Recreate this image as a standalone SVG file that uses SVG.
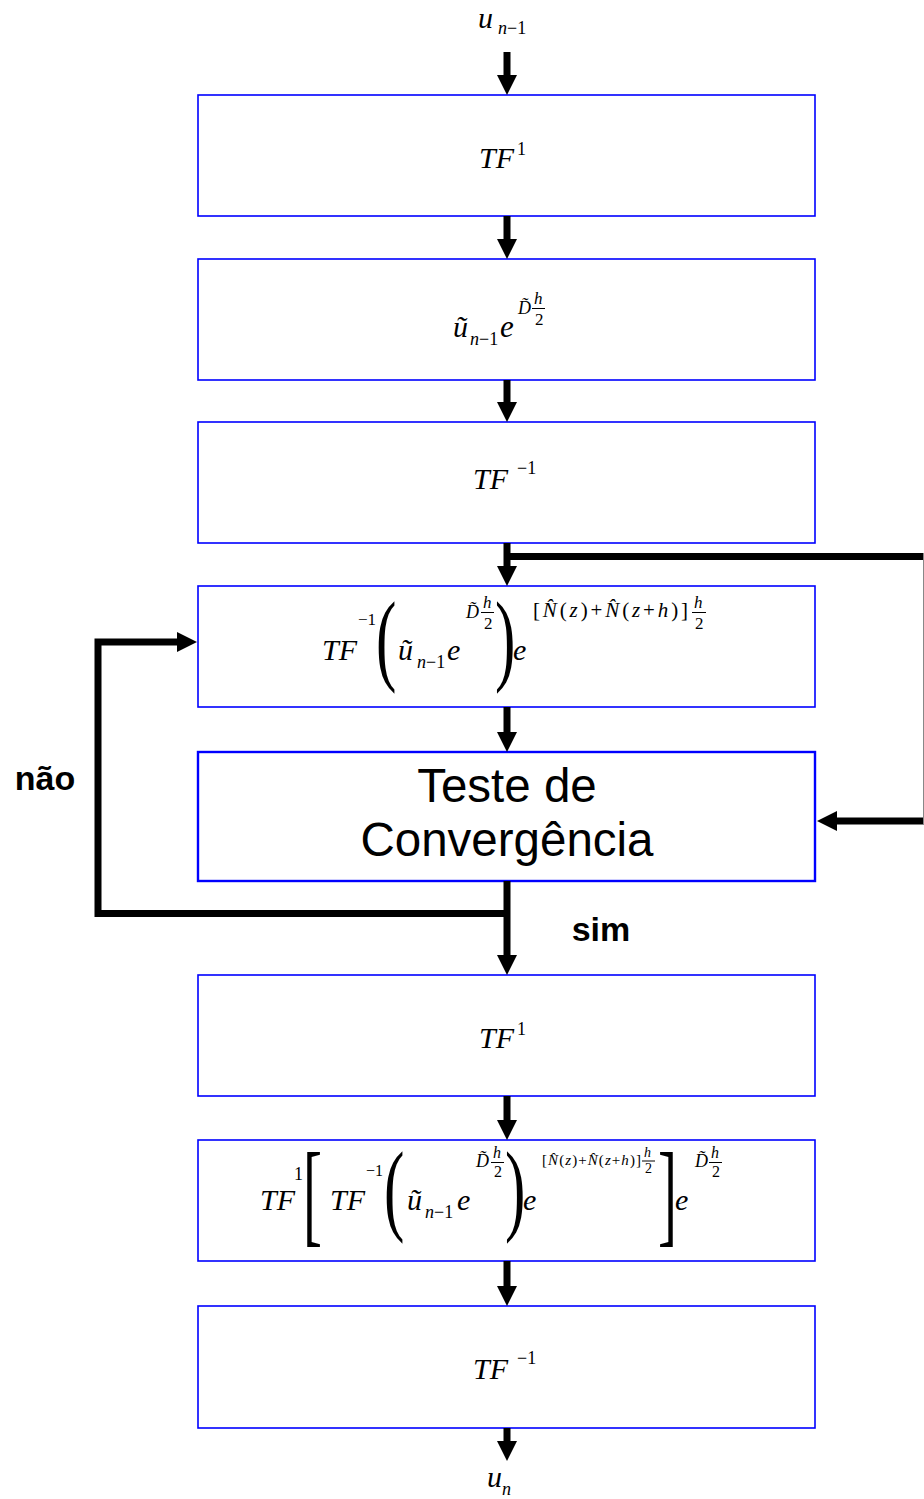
<svg xmlns="http://www.w3.org/2000/svg" width="924" height="1499" viewBox="0 0 924 1499">
<style>
.box{fill:#fff;stroke:#0000ff;stroke-width:1.6}
.m{font-family:"Liberation Serif","Times New Roman",serif;font-style:italic;fill:#000}
.r{font-family:"Liberation Serif","Times New Roman",serif;font-style:normal;fill:#000}
.lbl{font-family:"Liberation Sans",Arial,sans-serif;fill:#000}
.conn{stroke:#000;stroke-width:7;fill:none;stroke-linejoin:miter;stroke-linecap:butt}
.bar{stroke:#000;stroke-width:1}
</style>
<defs>
<marker id="ah" viewBox="0 0 20 20" refX="0" refY="10" markerWidth="20" markerHeight="20" markerUnits="userSpaceOnUse" orient="auto">
<path d="M0,0 L20,10 L0,20 z" fill="#000"/>
</marker>
</defs>

<g id="label-in">
<text class="m" font-size="30" x="478" y="28">u</text>
<text class="r" font-size="18" x="498" y="34"><tspan font-style="italic">n</tspan>−1</text>
</g>

<g id="box1">
<rect class="box" x="198" y="95" width="617" height="121"/>
<text class="m" font-size="30" x="479" y="168">TF</text>
<text class="r" font-size="18" x="517" y="155">1</text>
</g>

<g id="box2">
<rect class="box" x="198" y="259" width="617" height="121"/>
<text class="m" font-size="30" x="453" y="337">ũ</text>
<text class="r" font-size="18" x="470" y="345"><tspan font-style="italic">n</tspan>−1</text>
<text class="m" font-size="31" x="500" y="337">e</text>
<text class="m" font-size="18" x="518" y="314">D̃</text>
<text class="m" font-size="17" x="534" y="304">h</text>
<line class="bar" x1="532" y1="308.5" x2="545" y2="308.5"/>
<text class="r" font-size="17" x="535" y="325">2</text>
</g>

<g id="box3">
<rect class="box" x="198" y="422" width="617" height="121"/>
<text class="m" font-size="30" x="473" y="489">TF</text>
<text class="r" font-size="18" x="517" y="474">−1</text>
</g>

<g id="box4">
<rect class="box" x="198" y="586" width="617" height="121"/>
<text class="m" font-size="30" x="322" y="660">TF</text>
<text class="r" font-size="17" x="358" y="625">−1</text>
<text class="r" font-size="102" transform="translate(376,672) scale(0.6,1)">(</text>
<text class="m" font-size="30" x="398" y="660">ũ</text>
<text class="r" font-size="18" x="417" y="668"><tspan font-style="italic">n</tspan>−1</text>
<text class="m" font-size="30" x="447" y="660">e</text>
<text class="m" font-size="18" x="466" y="618">D̃</text>
<text class="m" font-size="17" x="483" y="608">h</text>
<line class="bar" x1="481" y1="612.5" x2="494" y2="612.5"/>
<text class="r" font-size="17" x="484" y="629">2</text>
<text class="r" font-size="102" transform="translate(495,672) scale(0.6,1)">)</text>
<text class="m" font-size="30" x="513" y="660">e</text>
<text class="r" font-size="21" x="533" y="617" textLength="155" lengthAdjust="spacing">[<tspan font-style="italic">N̂</tspan>(<tspan font-style="italic">z</tspan>)+<tspan font-style="italic">N̂</tspan>(<tspan font-style="italic">z</tspan>+<tspan font-style="italic">h</tspan>)]</text>
<text class="m" font-size="17" x="694" y="608">h</text>
<line class="bar" x1="692" y1="612.5" x2="706" y2="612.5"/>
<text class="r" font-size="17" x="695" y="629">2</text>
</g>

<g id="box5">
<rect class="box" x="198" y="752" width="617" height="129" style="stroke-width:2.4"/>
<text class="lbl" font-size="47.5" x="507" y="802" text-anchor="middle">Teste de</text>
<text class="lbl" font-size="47.5" x="507" y="856" text-anchor="middle">Convergência</text>
</g>

<g id="box6">
<rect class="box" x="198" y="975" width="617" height="121"/>
<text class="m" font-size="30" x="479" y="1048">TF</text>
<text class="r" font-size="18" x="517" y="1035">1</text>
</g>

<g id="box7">
<rect class="box" x="198" y="1140" width="617" height="121"/>
<text class="m" font-size="30" x="260" y="1210">TF</text>
<text class="r" font-size="18" x="294" y="1180">1</text>
<text class="r" font-size="114" transform="translate(303,1232) scale(0.5,1)">[</text>
<text class="m" font-size="30" x="330" y="1210">TF</text>
<text class="r" font-size="16" x="366" y="1176">−1</text>
<text class="r" font-size="102" transform="translate(384,1222) scale(0.6,1)">(</text>
<text class="m" font-size="30" x="407" y="1210">ũ</text>
<text class="r" font-size="18" x="425" y="1218"><tspan font-style="italic">n</tspan>−1</text>
<text class="m" font-size="30" x="457" y="1210">e</text>
<text class="m" font-size="18" x="476" y="1167">D̃</text>
<text class="m" font-size="16" x="493" y="1158">h</text>
<line class="bar" x1="491" y1="1162.5" x2="504" y2="1162.5"/>
<text class="r" font-size="16" x="494" y="1177">2</text>
<text class="r" font-size="102" transform="translate(505,1222) scale(0.6,1)">)</text>
<text class="m" font-size="30" x="523" y="1210">e</text>
<text class="r" font-size="15" x="542" y="1165" textLength="99" lengthAdjust="spacing">[<tspan font-style="italic">N̂</tspan>(<tspan font-style="italic">z</tspan>)+<tspan font-style="italic">N̂</tspan>(<tspan font-style="italic">z</tspan>+<tspan font-style="italic">h</tspan>)]</text>
<text class="m" font-size="14" x="644" y="1157">h</text>
<line class="bar" x1="642" y1="1161" x2="655" y2="1161"/>
<text class="r" font-size="14" x="645" y="1173">2</text>
<text class="r" font-size="114" transform="translate(658,1232) scale(0.5,1)">]</text>
<text class="m" font-size="30" x="675" y="1210">e</text>
<text class="m" font-size="18" x="695" y="1167">D̃</text>
<text class="m" font-size="16" x="711" y="1158">h</text>
<line class="bar" x1="709" y1="1162.5" x2="722" y2="1162.5"/>
<text class="r" font-size="16" x="712" y="1177">2</text>
</g>

<g id="box8">
<rect class="box" x="198" y="1306" width="617" height="122"/>
<text class="m" font-size="30" x="473" y="1379">TF</text>
<text class="r" font-size="18" x="517" y="1364">−1</text>
</g>

<g id="label-out">
<text class="m" font-size="30" x="487" y="1487">u</text>
<text class="m" font-size="18" x="502" y="1495">n</text>
</g>

<g id="label-nao">
<text class="lbl" font-size="34" font-weight="bold" x="45" y="790" text-anchor="middle">não</text>
</g>
<g id="label-sim">
<text class="lbl" font-size="34" font-weight="bold" x="601" y="941" text-anchor="middle">sim</text>
</g>

<g id="connectors">
<line class="conn" x1="507" y1="52" x2="507" y2="75" marker-end="url(#ah)"/>
<line class="conn" x1="507" y1="216" x2="507" y2="239" marker-end="url(#ah)"/>
<line class="conn" x1="507" y1="380" x2="507" y2="402" marker-end="url(#ah)"/>
<line class="conn" x1="507" y1="543" x2="507" y2="566" marker-end="url(#ah)"/>
<polyline class="conn" points="507,556.5 927.5,556.5 927.5,821 837,821" marker-end="url(#ah)"/>
<line x1="923.5" y1="553" x2="923.5" y2="825" stroke="#888" stroke-width="1"/>
<line class="conn" x1="507" y1="707" x2="507" y2="732" marker-end="url(#ah)"/>
<line class="conn" x1="507" y1="881" x2="507" y2="955" marker-end="url(#ah)"/>
<polyline class="conn" points="507,913.5 98,913.5 98,642 177,642" marker-end="url(#ah)"/>
<line class="conn" x1="507" y1="1096" x2="507" y2="1120" marker-end="url(#ah)"/>
<line class="conn" x1="507" y1="1261" x2="507" y2="1286" marker-end="url(#ah)"/>
<line class="conn" x1="507" y1="1428" x2="507" y2="1441" marker-end="url(#ah)"/>
</g>
</svg>
